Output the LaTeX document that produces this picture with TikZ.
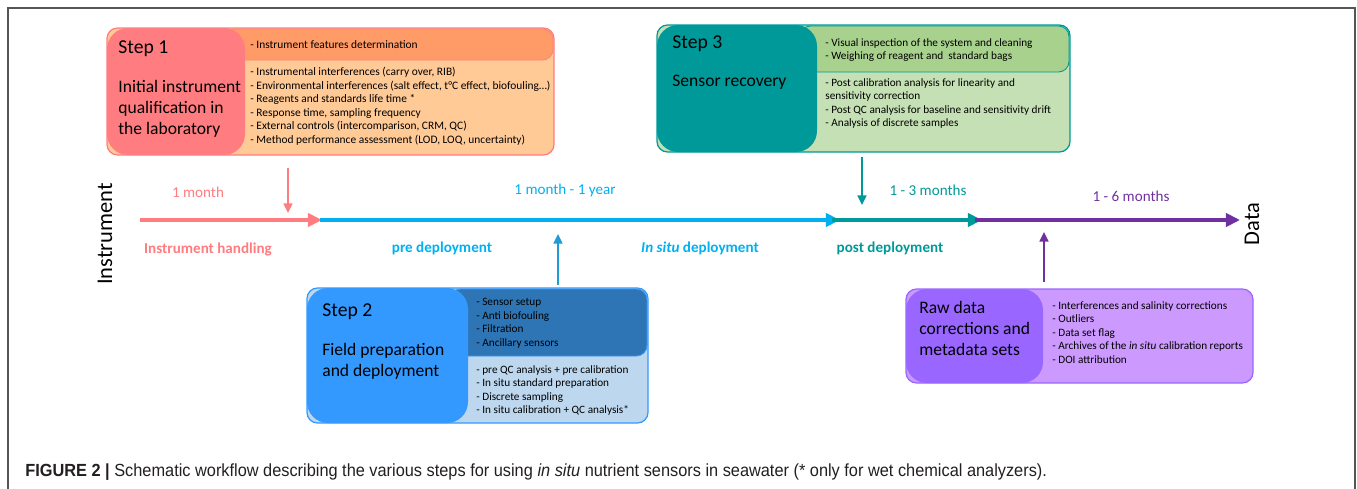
\documentclass[tikz,border=0pt]{standalone}
\usepackage{fontspec}
\setmainfont{Carlito}
\newfontfamily\capfont{Liberation Sans}
\usetikzlibrary{arrows.meta}
\definecolor{sadark}{HTML}{FF7C80}
\definecolor{sastrip}{HTML}{FF9B66}
\definecolor{salight}{HTML}{FFCA96}
\definecolor{sbdark}{HTML}{3399FF}
\definecolor{sbstrip}{HTML}{2E75B6}
\definecolor{sblight}{HTML}{BDD7EE}
\definecolor{scdark}{HTML}{009999}
\definecolor{scstrip}{HTML}{A9D18E}
\definecolor{sclight}{HTML}{C5E0B4}
\definecolor{sddark}{HTML}{9966FF}
\definecolor{sdlight}{HTML}{CC99FF}
\definecolor{tpink}{HTML}{FF7C80}
\definecolor{tblue}{HTML}{00B0F0}
\definecolor{tblue2}{HTML}{1F9BD7}
\definecolor{tteal}{HTML}{009999}
\definecolor{tpurple}{HTML}{7030A0}
\definecolor{capgray}{HTML}{231F20}
\definecolor{framegray}{HTML}{555555}
\tikzset{
  bigtxt/.style={anchor=north west, inner sep=0pt, align=left, font=\fontsize{10}{11.9}\selectfont},
  steptxt/.style={anchor=north west, inner sep=0pt, align=left, font=\fontsize{11.2}{13}\selectfont},
  listsmall/.style={anchor=north west, inner sep=0pt, align=left, font=\fontsize{6.5}{7.7}\selectfont},
  listtxt/.style={anchor=north west, inner sep=0pt, align=left, font=\fontsize{6.4}{7.7}\selectfont},
  tltxt/.style={inner sep=0pt, font=\fontsize{8.6}{10}\selectfont},
  tlbold/.style={inner sep=0pt, font=\fontsize{8.6}{10}\selectfont\bfseries},
  tline/.style={line width=2.1pt, -{Triangle[length=8pt,width=7.5pt]}},
  varrow/.style={line width=1.2pt, -{Triangle[length=5.5pt,width=5pt]}},
  outerbox/.style={line width=0.7pt, rounded corners=6pt},
  stripbox/.style={line width=0.5pt, rounded corners=6pt},
  darkbox/.style={rounded corners=12pt},
  axistxt/.style={inner sep=0pt, rotate=90, font=\fontsize{12.8}{14}\selectfont}
}
\begin{document}
\begin{tikzpicture}[x=0.02cm,y=-0.02cm]
\useasboundingbox (0,0) rectangle (1357,488);
% frame
\draw[framegray, line width=0.8pt] (8,495) -- (8,8) -- (1355,8) -- (1355,495);

% ---------- Step 1
\draw[outerbox, draw=sadark, fill=salight] (107,28) rectangle (554,155);
\filldraw[stripbox, draw=sadark!80!sastrip, fill=sastrip] (225,29) rectangle (553,60);
\fill[darkbox, sadark] (107,28) rectangle (245,155);
\node[steptxt] (s1t) at (118,40) {Step 1};
\node[bigtxt] (s1n) at (118,80) {Initial instrument\\qualification in\\the laboratory};
\node[listsmall] (s1a) at (250,40) {- Instrument features determination};
\node[listsmall] (s1b) at (250,67) {- Instrumental interferences (carry over, RIB)\\
- Environmental interferences (salt effect, t°C effect, biofouling…)\\
- Reagents and standards life time *\\
- Response time, sampling frequency\\
- External controls (intercomparison, CRM, QC)\\
- Method performance assessment (LOD, LOQ, uncertainty)};

% ---------- Step 3
\draw[outerbox, draw=scdark, fill=sclight] (657,25) rectangle (1070,152);
\filldraw[stripbox, draw=scdark, fill=scstrip] (800,26) rectangle (1069,72);
\fill[darkbox, scdark] (657,25) rectangle (817,152);
\node[steptxt] (s3t) at (672,35) {Step 3};
\node[bigtxt] (s3n) at (672,75) {Sensor recovery};
\node[listtxt] (s3a) at (825,38) {- Visual inspection of the system and cleaning\\
- Weighing of reagent and\ \ standard bags};
\node[listtxt] (s3b) at (825,78) {- Post calibration analysis for linearity and\\
sensitivity correction\\
- Post QC analysis for baseline and sensitivity drift\\
- Analysis of discrete samples};

% ---------- Step 2
\draw[outerbox, draw=sbdark, fill=sblight] (307,288) rectangle (648,423);
\filldraw[stripbox, draw=sbdark, fill=sbstrip] (450,289) rectangle (647,356);
\fill[darkbox, sbdark] (307,288) rectangle (468,423);
\node[steptxt] (s2t) at (322,303) {Step 2};
\node[bigtxt] (s2n) at (322,343) {Field preparation\\and deployment};
\node[listtxt] (s2a) at (476,298) {- Sensor setup\\- Anti biofouling\\- Filtration\\- Ancillary sensors};
\node[listtxt] (s2b) at (476,365) {- pre QC analysis + pre calibration\\
- In situ standard preparation\\
- Discrete sampling\\
- In situ calibration + QC analysis*};

% ---------- Raw data
\draw[outerbox, draw=sddark, fill=sdlight] (906,289) rectangle (1253,383);
\fill[darkbox, sddark] (906,289) rectangle (1043,383);
\node[bigtxt] (s4n) at (919,301) {Raw data\\corrections and\\metadata sets};
\node[listtxt] (s4a) at (1052,301) {- Interferences and salinity corrections\\
- Outliers\\
- Data set flag\\
- Archives of the \textit{in situ} calibration reports\\
- DOI attribution};

% ---------- timeline
\coordinate (t0) at (140,220);
\coordinate (t1) at (322,220);
\coordinate (t1b) at (320,220);
\coordinate (t2) at (840,220);
\coordinate (t2b) at (832,220);
\coordinate (t3) at (982,220);
\coordinate (t3b) at (975,220);
\coordinate (t4) at (1240,220);
\draw[tline, tpink] (t0) -- (t1);
\draw[tline, tblue] (t1b) -- (t2);
\draw[tline, tteal] (t2b) -- (t3);
\draw[tline, tpurple] (t3b) -- (t4);

\coordinate (a1s) at (288,168);
\coordinate (a1e) at (288,213);
\coordinate (a2s) at (558,285);
\coordinate (a2e) at (558,234);
\coordinate (a3s) at (862,157);
\coordinate (a3e) at (862,205);
\coordinate (a4s) at (1044,282);
\coordinate (a4e) at (1044,232);
\draw[varrow, tpink] (a1s) -- (a1e);
\draw[varrow, tblue2] (a2s) -- (a2e);
\draw[varrow, tteal] (a3s) -- (a3e);
\draw[varrow, tpurple] (a4s) -- (a4e);

\node[tltxt, text=tpink] (l1) at (198,192) {1 month};
\node[tlbold, text=tpink] (l2) at (208,249) {Instrument handling};
\node[tltxt, text=tblue] (l3) at (565,190) {1 month - 1 year};
\node[tlbold, text=tblue] (l4) at (442,248) {pre deployment};
\node[tlbold, text=tblue] (l5) at (700,248) {\textit{In situ} deployment};
\node[tltxt, text=tteal] (l6) at (928,190) {1 - 3 months};
\node[tlbold, text=tteal] (l7) at (890,248) {post deployment};
\node[tltxt, text=tpurple] (l8) at (1131,196) {1 - 6 months};

\node[axistxt] (ins) at (105,234) {Instrument};
\node[axistxt] (dat) at (1252,224) {Data};

% caption
\node[anchor=base west, inner sep=0pt, text=capgray, xscale=0.93, transform shape, font=\capfont\fontsize{10}{12}\selectfont] (cap) at (25,476)
 {\textbf{FIGURE 2 |} Schematic workflow describing the various steps for using \textit{in situ} nutrient sensors in seawater (* only for wet chemical analyzers).};
\end{tikzpicture}
\end{document}
